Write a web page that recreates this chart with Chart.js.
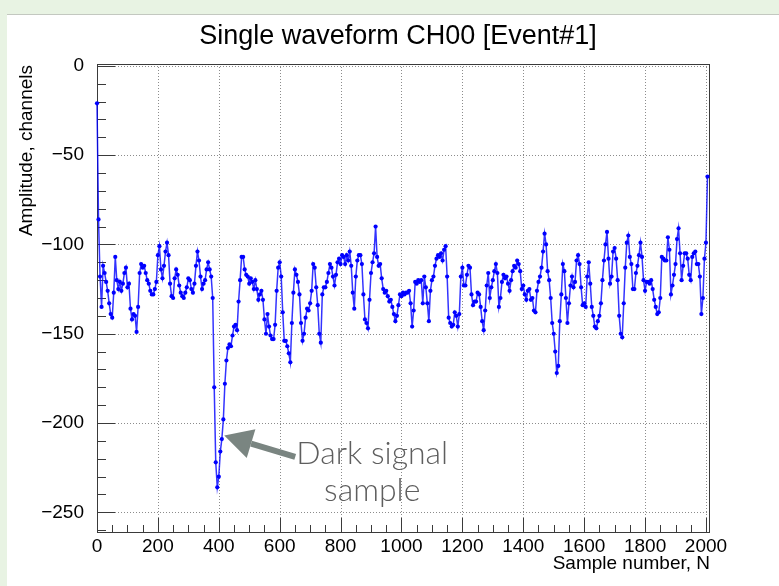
<!DOCTYPE html>
<html>
<head>
<meta charset="utf-8">
<script src="https://cdn.jsdelivr.net/npm/chart.js@4.4.1/dist/chart.umd.min.js"></script>
<style>
  html, body { margin: 0; padding: 0; background: #fff; }
</style>
</head>
<body>
<canvas id="c" width="779" height="586"></canvas>
<script>
  // waveform, one value every 5 samples (N = 0, 5, 10 ...)
  const sampleStep = 5;
  const amplitude = [
    -21, -86, -118, -135, -112, -116, -121, -126, -133, -139,
    -141, -127, -107, -120, -125, -121, -126, -122, -116, -113,
    -124, -122, -136, -142, -139, -140, -149, -135, -116, -111,
    -113, -112, -116, -120, -122, -126, -128, -128, -125, -121,
    -106, -101, -114, -119, -112, -104, -99, -106, -122, -129,
    -130, -119, -114, -117, -123, -127, -129, -130, -127, -124,
    -119, -120, -125, -127, -122, -112, -104, -109, -118, -125,
    -122, -120, -114, -110, -114, -118, -130, -180, -222, -236,
    -230, -216, -209, -198, -178, -165, -158, -156, -157, -151,
    -146, -145, -148, -132, -120, -107, -107, -114, -117, -118,
    -122, -119, -121, -125, -120, -125, -131, -128, -126, -131,
    -142, -150, -139, -146, -151, -153, -153, -145, -126, -113,
    -110, -118, -138, -154, -154, -157, -161, -166, -144, -127,
    -114, -117, -121, -128, -144, -154, -150, -141, -136, -137,
    -133, -126, -111, -113, -124, -134, -150, -155, -128, -124,
    -124, -121, -116, -111, -113, -118, -123, -117, -110, -108,
    -111, -106, -107, -111, -106, -109, -104, -112, -127, -136,
    -118, -109, -106, -106, -111, -128, -142, -144, -147, -131,
    -116, -110, -105, -90, -107, -112, -111, -119, -125, -127,
    -126, -129, -132, -131, -135, -139, -143, -140, -134, -128,
    -129, -127, -128, -127, -127, -126, -133, -146, -137, -121,
    -122, -120, -121, -120, -133, -118, -124, -133, -143, -126,
    -120, -118, -112, -108, -106, -107, -105, -109, -103, -101,
    -118, -141, -144, -146, -145, -138, -140, -146, -139, -118,
    -113, -123, -123, -117, -112, -113, -128, -134, -132, -132,
    -127, -128, -135, -143, -148, -137, -123, -116, -130, -124,
    -120, -115, -111, -116, -135, -130, -121, -117, -119, -118,
    -122, -126, -120, -115, -112, -113, -109, -111, -115, -125,
    -123, -128, -131, -126, -125, -131, -130, -137, -138, -126,
    -121, -118, -113, -104, -94, -100, -115, -120, -130, -144,
    -150, -160, -172, -168, -143, -128, -111, -115, -130, -144,
    -133, -123, -118, -124, -121, -109, -106, -111, -124, -134,
    -133, -135, -118, -110, -122, -135, -140, -146, -147, -143,
    -140, -133, -120, -109, -100, -93, -108, -122, -118, -104,
    -102, -108, -120, -140, -150, -152, -133, -113, -99, -95,
    -107, -111, -125, -125, -116, -112, -106, -99, -107, -120,
    -126, -121, -121, -122, -120, -125, -131, -135, -139, -138,
    -130, -107, -108, -109, -109, -96, -103, -128, -123, -117,
    -111, -97, -91, -105, -120, -112, -105, -105, -108, -117,
    -120, -107, -105, -104, -111, -111, -118, -139, -130, -108,
    -99, -62
  ];

  const xTickValues = [0, 200, 400, 600, 800, 1000, 1200, 1400, 1600, 1800, 2000];
  const yTickValues = [0, -50, -100, -150, -200, -250];

  const titleText = 'Single waveform CH00 [Event#1]';
  const xTitle = 'Sample number, N';
  const yTitle = 'Amplitude, channels';
  const noteLines = ['Dark signal', 'sample'];

  // where the grey arrow and the note sit, in data units
  const note = { tipN: 418, tipA: -207, tailN: 651, tailA: -219, textN: 904, lineA: [-217, -238] };

  const points = amplitude.map((a, i) => ({ x: i * sampleStep, y: a }));

  const rootFont = 'Liberation Sans, Arial, Helvetica, sans-serif';
  const frameColor = '#3a3a3a';

  function minus(v) {
    return v < 0 ? '\u2212' + Math.abs(v) : String(v);
  }

  const rootLook = {
    id: 'rootLook',
    beforeDraw(chart) {
      const ctx = chart.ctx;
      ctx.save();
      ctx.fillStyle = '#e8f3e3';
      ctx.fillRect(0, 0, chart.width, chart.height);
      ctx.fillStyle = '#ffffff';
      ctx.fillRect(7, 15, chart.width - 7, chart.height - 15);
      ctx.strokeStyle = '#c3c8c0';
      ctx.lineWidth = 1;
      ctx.beginPath();
      ctx.moveTo(7, 14.5);
      ctx.lineTo(chart.width, 14.5);
      ctx.stroke();
      ctx.restore();
    },
    beforeDatasetsDraw(chart) {
      const { ctx, chartArea: a, scales: { x, y } } = chart;
      ctx.save();
      // dotted grid
      ctx.strokeStyle = '#8c8c8c';
      ctx.lineWidth = 1;
      ctx.setLineDash([1, 2]);
      xTickValues.forEach(v => {
        if (v === 0) return;
        const px = Math.round(x.getPixelForValue(v)) + 0.5;
        ctx.beginPath(); ctx.moveTo(px, a.top); ctx.lineTo(px, a.bottom); ctx.stroke();
      });
      yTickValues.forEach(v => {
        const py = Math.round(y.getPixelForValue(v)) + 0.5;
        ctx.beginPath(); ctx.moveTo(a.left, py); ctx.lineTo(a.right, py); ctx.stroke();
      });
      ctx.setLineDash([]);

      // frame
      ctx.strokeStyle = frameColor;
      ctx.strokeRect(Math.round(a.left) + 0.5, Math.round(a.top) + 0.5,
        Math.round(a.right - a.left), Math.round(a.bottom - a.top));
      // inner ticks, ROOT style
      ctx.beginPath();
      for (let v = 0; v >= -260; v -= 10) {
        const py = Math.round(y.getPixelForValue(v)) + 0.5;
        const len = v % 50 === 0 ? 18 : 9;
        ctx.moveTo(a.left, py); ctx.lineTo(a.left + len, py);
      }
      for (let v = 0; v <= 2000; v += 50) {
        const px = Math.round(x.getPixelForValue(v)) + 0.5;
        const len = v % 200 === 0 ? 14 : 7;
        ctx.moveTo(px, a.bottom); ctx.lineTo(px, a.bottom - len);
      }
      ctx.stroke();
      ctx.restore();
    },
    afterDatasetsDraw(chart) {
      const { ctx, chartArea: a, scales: { x, y } } = chart;
      ctx.save();
      // titles
      ctx.fillStyle = '#000';
      ctx.textBaseline = 'middle';
      ctx.textAlign = 'center';
      ctx.font = '27px ' + rootFont;
      ctx.fillText(titleText, 398, 37);
      ctx.font = '19px ' + rootFont;
      ctx.textAlign = 'right';
      ctx.fillText(xTitle, a.right + 1, 564);
      ctx.save();
      ctx.translate(27, a.top + 1);
      ctx.rotate(-Math.PI / 2);
      ctx.fillText(yTitle, 0, 0);
      ctx.restore();

      // arrow to the dark signal
      const tx = x.getPixelForValue(note.tipN), ty = y.getPixelForValue(note.tipA);
      const sx = x.getPixelForValue(note.tailN), sy = y.getPixelForValue(note.tailA);
      const ang = Math.atan2(ty - sy, tx - sx);
      const head = 28, half = 15;
      const bx = tx - head * Math.cos(ang), by = ty - head * Math.sin(ang);
      ctx.strokeStyle = '#7a8581';
      ctx.fillStyle = '#7a8581';
      ctx.lineWidth = 6;
      ctx.beginPath(); ctx.moveTo(sx, sy); ctx.lineTo(bx, by); ctx.stroke();
      ctx.beginPath();
      ctx.moveTo(tx, ty);
      ctx.lineTo(bx + half * Math.sin(ang), by - half * Math.cos(ang));
      ctx.lineTo(bx - half * Math.sin(ang), by + half * Math.cos(ang));
      ctx.closePath();
      ctx.fill();

      ctx.fillStyle = '#5e5e5e';
      ctx.textAlign = 'center';
      ctx.textBaseline = 'middle';
      ctx.font = '300 32px Lato, "Open Sans", sans-serif';
      noteLines.forEach((t, i) => {
        ctx.fillText(t, x.getPixelForValue(note.textN), y.getPixelForValue(note.lineA[i]));
      });
      ctx.restore();
    }
  };

  new Chart(document.getElementById('c').getContext('2d'), {
    type: 'line',
    data: {
      datasets: [{
        data: points,
        borderColor: 'rgba(0, 0, 255, 0.8)',
        borderWidth: 1.5,
        backgroundColor: '#0000ff',
        pointRadius: 2.1,
        pointBorderWidth: 0,
        pointBackgroundColor: '#0000ff',
        tension: 0,
        fill: false,
        clip: false
      }]
    },
    options: {
      responsive: false,
      animation: false,
      devicePixelRatio: 1,
      layout: { padding: { left: 0, top: 64, right: 70, bottom: 24 } },
      plugins: { legend: { display: false }, tooltip: { enabled: false } },
      scales: {
        x: {
          type: 'linear',
          min: 0,
          max: 2010,
          afterFit: s => { s.height = 30; },
          afterBuildTicks: s => { s.ticks = xTickValues.map(v => ({ value: v })); },
          grid: { display: false },
          border: { display: false },
          ticks: {
            color: '#000',
            padding: -5,
            maxRotation: 0,
            autoSkip: false,
            font: { family: rootFont, size: 19 },
            callback: v => minus(v)
          }
        },
        y: {
          min: -261,
          max: 1,
          afterFit: s => { s.width = 97; },
          afterBuildTicks: s => { s.ticks = yTickValues.map(v => ({ value: v })); },
          grid: { display: false },
          border: { display: false },
          ticks: {
            color: '#000',
            padding: 5,
            autoSkip: false,
            font: { family: rootFont, size: 19 },
            callback: v => minus(v)
          }
        }
      }
    },
    plugins: [rootLook]
  });
</script>
</body>
</html>
